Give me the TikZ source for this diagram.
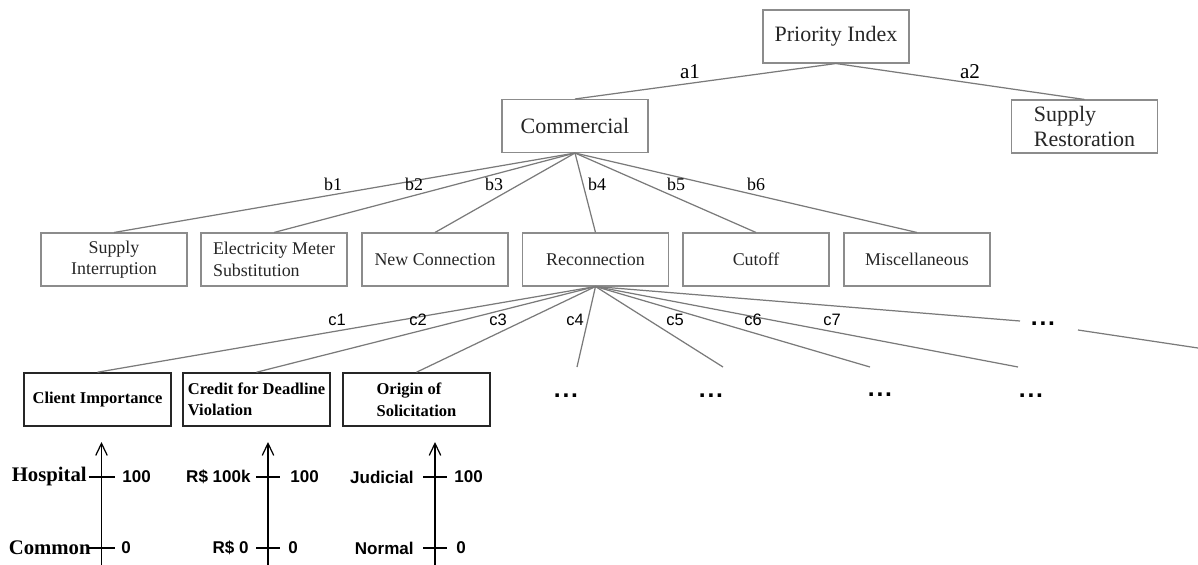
\documentclass[tikz,border=0pt]{standalone}
\usepackage{fontspec}
\setmainfont{Liberation Serif}
\newfontfamily\lblsans{Liberation Sans}
\usetikzlibrary{arrows.meta}
\definecolor{linegray}{HTML}{7A7A7A}
\definecolor{boxgray}{HTML}{8C8C8C}
\definecolor{textgray}{HTML}{262626}

\begin{document}
\begin{tikzpicture}[x=0.02cm, y=-0.02cm,
    topbox/.style={draw=boxgray, line width=0.6pt, minimum width=2.92cm, minimum height=1.06cm, inner sep=2pt, text=textgray, font=\fontsize{12.5}{14.2}\selectfont},
    midbox/.style={draw=boxgray, line width=0.6pt, minimum width=2.92cm, minimum height=1.06cm, inner sep=2pt, text=textgray, font=\fontsize{10.2}{12.3}\selectfont},
    lowbox/.style={draw=black!85, line width=0.9pt, minimum width=2.94cm, minimum height=1.06cm, inner sep=1pt, font=\fontsize{9.4}{12.3}\selectfont\bfseries},
    link/.style={draw=linegray, line width=0.7pt},
    alabel/.style={font=\fontsize{12}{12}\selectfont},
    blabel/.style={font=\fontsize{10.2}{10.2}\selectfont},
    clabel/.style={font=\lblsans\fontsize{9.4}{9.4}\selectfont},
    moredots/.style={font=\lblsans\bfseries\fontsize{14}{14}\selectfont},
    scaleword/.style={font=\bfseries\fontsize{11.8}{11.8}\selectfont, inner sep=0pt},
    scaletxt/.style={font=\lblsans\bfseries\fontsize{9.7}{9.7}\selectfont, inner sep=0pt},
    scaleaxis/.style={line width=0.7pt, -{Straight Barb[length=2.4mm, width=2.3mm]}}]
    \useasboundingbox (0,0) rectangle (1198,565);

    % 第一層
    \node[topbox] (prio) at (836,36.5) {Priority Index};
    \node[topbox] (comm) at (575,126) {Commercial};
    \node[topbox, align=left] (restore) at (1084.5,126.5) {Supply\\Restoration};

    % 第二層
    \node[midbox, align=center] (interrupt) at (114,259.5) {Supply\\Interruption};
    \node[midbox, align=left] (meter) at (274,259.5) {Electricity Meter\\Substitution};
    \node[midbox] (newconn) at (435,259.5) {New Connection};
    \node[midbox] (reconn) at (595.5,259.5) {Reconnection};
    \node[midbox] (cutoff) at (756,259.5) {Cutoff};
    \node[midbox] (misc) at (917,259.5) {Miscellaneous};

    % 第三層
    \node[lowbox] (client) at (97.5,399.5) {Client Importance};
    \node[lowbox, align=left] (credit) at (256.5,399.5) {Credit for Deadline\\Violation};
    \node[lowbox, align=left] (origin) at (416.5,399.5) {Origin of\\Solicitation};
    \node[moredots] (dotsc4) at (566,396) {.\kern1pt.\kern1pt.};
    \node[moredots] (dotsc5) at (711,396) {.\kern1pt.\kern1pt.};
    \node[moredots] (dotsc6) at (880,395) {.\kern1pt.\kern1pt.};
    \node[moredots] (dotsc7) at (1031,396) {.\kern1pt.\kern1pt.};
    \node[moredots] (dotsmore) at (1043,324) {.\kern1pt.\kern1pt.};

    % 線段端點
    \coordinate (c4end) at (577,367);
    \coordinate (c5end) at (723,367);
    \coordinate (c6end) at (870,367);
    \coordinate (c7end) at (1018,367);
    \coordinate (moreend) at (1020,321);
    \coordinate (morerest) at (1078,330);
    \coordinate (moreedge) at (1198,348);

    % 連線
    \draw[link] (prio.south) -- (comm.north);
    \draw[link] (prio.south) -- (restore.north);
    \draw[link] (comm.south) -- (interrupt.north);
    \draw[link] (comm.south) -- (meter.north);
    \draw[link] (comm.south) -- (newconn.north);
    \draw[link] (comm.south) -- (reconn.north);
    \draw[link] (comm.south) -- (cutoff.north);
    \draw[link] (comm.south) -- (misc.north);
    \draw[link] (reconn.south) -- (client.north);
    \draw[link] (reconn.south) -- (credit.north);
    \draw[link] (reconn.south) -- (origin.north);
    \draw[link] (reconn.south) -- (c4end);
    \draw[link] (reconn.south) -- (c5end);
    \draw[link] (reconn.south) -- (c6end);
    \draw[link] (reconn.south) -- (c7end);
    \draw[link] (reconn.south) -- (moreend);
    \draw[link] (morerest) -- (moreedge);

    % 權重
    \node[alabel] (la1) at (690,72) {a1};
    \node[alabel] (la2) at (970,72) {a2};
    \node[blabel] (lb1) at (333,184) {b1};
    \node[blabel] (lb2) at (414,184) {b2};
    \node[blabel] (lb3) at (494,184) {b3};
    \node[blabel] (lb4) at (597,184) {b4};
    \node[blabel] (lb5) at (676,184) {b5};
    \node[blabel] (lb6) at (756,184) {b6};
    \node[clabel] (lc1) at (337,320) {c1};
    \node[clabel] (lc2) at (418,320) {c2};
    \node[clabel] (lc3) at (498,320) {c3};
    \node[clabel] (lc4) at (575,320) {c4};
    \node[clabel] (lc5) at (675,320) {c5};
    \node[clabel] (lc6) at (753,320) {c6};
    \node[clabel] (lc7) at (832,320) {c7};

    % 刻度軸
    \coordinate (clientlo) at (101.5,565);
    \coordinate (clienthi) at (101.5,442);
    \coordinate (creditlo) at (268,565);
    \coordinate (credithi) at (268,442);
    \coordinate (originlo) at (435,565);
    \coordinate (originhi) at (435,442);
    \draw[scaleaxis] (clientlo) -- (clienthi);
    \draw[scaleaxis] (creditlo) -- (credithi);
    \draw[scaleaxis] (originlo) -- (originhi);
    \draw[line width=0.7pt] (88.5,477) -- (114.5,477);
    \draw[line width=0.7pt] (88.5,548) -- (114.5,548);
    \draw[line width=0.7pt] (256,477) -- (280,477);
    \draw[line width=0.7pt] (256,548) -- (280,548);
    \draw[line width=0.7pt] (423,477) -- (447,477);
    \draw[line width=0.7pt] (423,548) -- (447,548);

    % 刻度標籤
    \node[scaleword, anchor=east] (hosp) at (87,477) {Hospital};
    \node[scaletxt, anchor=west] (hosphi) at (122,477) {100};
    \node[scaleword, anchor=east] (common) at (91,548) {Common};
    \node[scaletxt, anchor=west] (commonlo) at (121,548) {0};
    \node[scaletxt, anchor=east] (rich) at (251,477) {R\$ 100k};
    \node[scaletxt, anchor=west] (richhi) at (290,477) {100};
    \node[scaletxt, anchor=east] (poor) at (249,548) {R\$ 0};
    \node[scaletxt, anchor=west] (poorlo) at (288,548) {0};
    \node[scaletxt, anchor=east] (judicial) at (414,477) {Judicial};
    \node[scaletxt, anchor=west] (judicialhi) at (454,477) {100};
    \node[scaletxt, anchor=east] (normal) at (414,548) {Normal};
    \node[scaletxt, anchor=west] (normallo) at (456,548) {0};
\end{tikzpicture}
\end{document}
